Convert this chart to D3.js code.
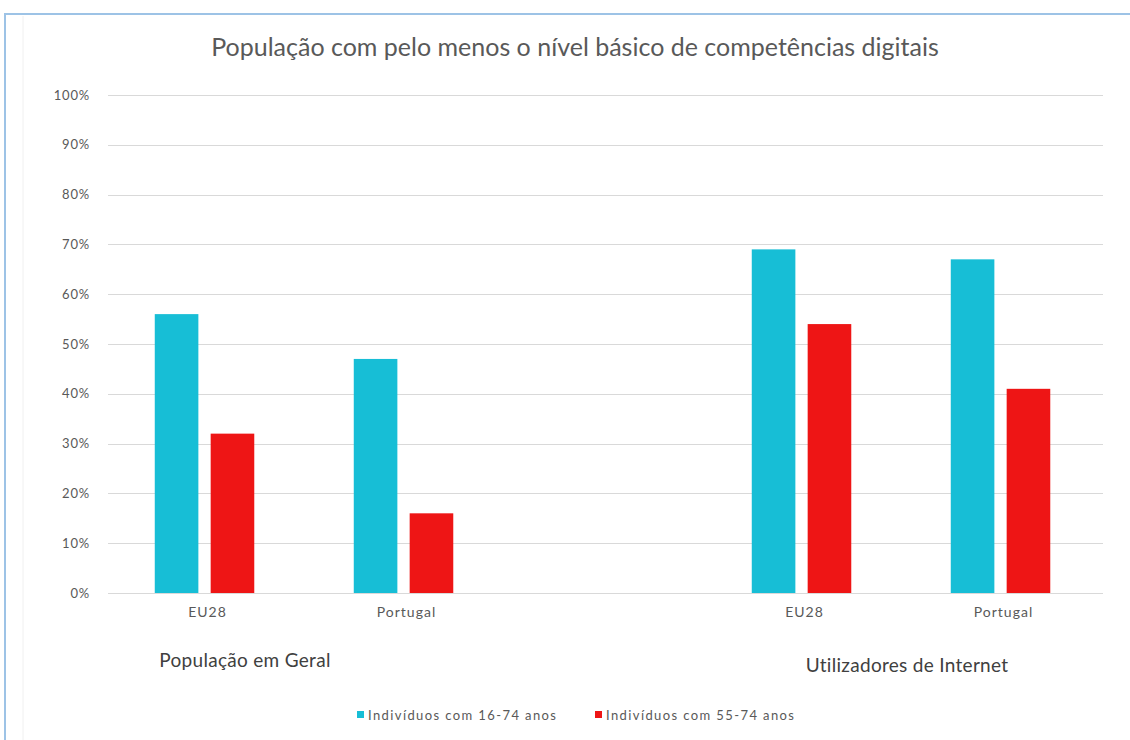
<!DOCTYPE html>
<html>
<head>
<meta charset="utf-8">
<script src="https://cdnjs.cloudflare.com/ajax/libs/d3/7.8.5/d3.min.js"></script>
<style>
  html, body { margin: 0; padding: 0; background: #fff; }
  svg { display: block; }
  text { font-family: Lato, "Noto Sans", sans-serif; }
</style>
</head>
<body>
<svg id="chart" width="1130" height="740"></svg>
<script>
// Chart data
const title = "População com pelo menos o nível básico de competências digitais";
const categories = ["EU28 (geral)", "Portugal (geral)", "", "EU28 (internet)", "Portugal (internet)"];
const categoryLabels = ["EU28", "Portugal", "", "EU28", "Portugal"];
const seriesNames = ["Indivíduos com 16-74 anos", "Indivíduos com 55-74 anos"];
const values16to74 = [0.56, 0.47, null, 0.69, 0.67];
const values55to74 = [0.32, 0.16, null, 0.54, 0.41];
const groupLabels = ["População em Geral", "Utilizadores de Internet"];
const yTicks = [0, 0.1, 0.2, 0.3, 0.4, 0.5, 0.6, 0.7, 0.8, 0.9, 1.0];
const colors = ["#17BED6", "#EE1515"];

const svg = d3.select("#chart");
const W = 1130, H = 740;
const plot = { left: 108, right: 1103, top: 95, bottom: 593 };

// Outer frame and faint chart-area edge
svg.append("rect").attr("x", 5).attr("y", 14).attr("width", W + 20).attr("height", H + 20)
  .attr("fill", "#fff").attr("stroke", "#9DC3E6").attr("stroke-width", 2);
svg.append("line").attr("x1", 23).attr("x2", 23).attr("y1", 16).attr("y2", H)
  .attr("stroke", "#f0f0f0").attr("stroke-width", 1);

// Title
svg.append("text").attr("x", 575).attr("y", 56).attr("text-anchor", "middle")
  .attr("font-size", 25).attr("fill", "#595959").text(title);

// Scales
const x0 = d3.scaleBand().domain(categories).range([plot.left, plot.right]).paddingInner(0).paddingOuter(0);
const bw = x0.bandwidth();
const x1 = d3.scaleBand().domain(seriesNames).range([bw * 0.235, bw * 0.735]).paddingInner(0.22).paddingOuter(0);
const y = d3.scaleLinear().domain([0, 1]).range([plot.bottom, plot.top]);

// Gridlines
svg.append("g").selectAll("line").data(yTicks).join("line")
  .attr("x1", plot.left).attr("x2", plot.right)
  .attr("y1", d => Math.round(y(d)) + 0.5).attr("y2", d => Math.round(y(d)) + 0.5)
  .attr("stroke", "#D9D9D9").attr("stroke-width", 1);

// Y axis labels
const yAxis = d3.axisLeft(y).tickValues(yTicks).tickFormat(d3.format(".0%")).tickSize(0).tickPadding(0);
const gy = svg.append("g").attr("transform", `translate(${plot.left - 18},0)`).call(yAxis);
gy.select(".domain").remove();
gy.selectAll("text").attr("font-size", 13).attr("letter-spacing", 0.8).attr("fill", "#595959")
  .style("font-family", "Lato, 'Noto Sans', sans-serif");

// Bars
const rows = categories.map((c, i) => ({ cat: c, vals: [values16to74[i], values55to74[i]] }));
const groups = svg.append("g").selectAll("g").data(rows).join("g")
  .attr("transform", d => `translate(${x0(d.cat)},0)`);
groups.selectAll("rect")
  .data(d => d.vals.map((v, j) => ({ s: seriesNames[j], v, j })).filter(e => e.v != null))
  .join("rect")
  .attr("x", d => x1(d.s)).attr("width", x1.bandwidth())
  .attr("y", d => y(d.v)).attr("height", d => y(0) - y(d.v))
  .attr("fill", d => colors[d.j]);

// Category labels
const xAxis = d3.axisBottom(x0).tickFormat((d, i) => categoryLabels[i]).tickSize(0).tickPadding(0);
const gx = svg.append("g").attr("transform", `translate(0,${plot.bottom + 14})`).call(xAxis);
gx.select(".domain").remove();
gx.selectAll("text").attr("font-size", 14).attr("letter-spacing", 1).attr("fill", "#595959")
  .style("font-family", "Lato, 'Noto Sans', sans-serif");

// Group labels
svg.append("text").attr("x", 245).attr("y", 667).attr("text-anchor", "middle")
  .attr("font-size", 19).attr("letter-spacing", 0.3).attr("fill", "#404040").text(groupLabels[0]);
svg.append("text").attr("x", 907).attr("y", 672).attr("text-anchor", "middle")
  .attr("font-size", 19).attr("letter-spacing", 0.3).attr("fill", "#404040").text(groupLabels[1]);

// Legend
const legendX = [357, 595];
const leg = svg.append("g").selectAll("g").data(seriesNames).join("g")
  .attr("transform", (d, i) => `translate(${legendX[i]},715)`);
leg.append("rect").attr("x", 0).attr("y", -4).attr("width", 7).attr("height", 7)
  .attr("fill", (d, i) => colors[i]);
leg.append("text").attr("x", 11).attr("y", 4.5).attr("font-size", 13).attr("letter-spacing", 1.4)
  .attr("fill", "#595959").text(d => d);
</script>
</body>
</html>
